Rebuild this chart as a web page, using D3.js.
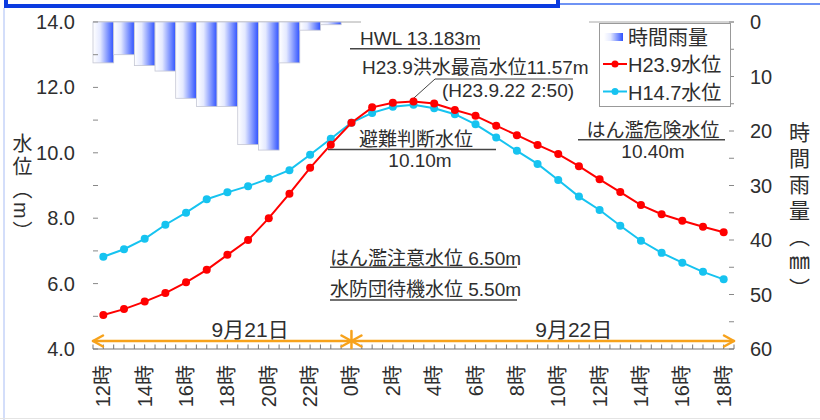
<!DOCTYPE html>
<html>
<head>
<meta charset="utf-8">
<script src="https://cdn.jsdelivr.net/npm/d3@7"></script>
<style>
  body { margin: 0; background: #fff; }
  svg { display: block; }
</style>
</head>
<body>
<div id="chart"></div>
<script>
// hourly categories, 9/21 12時 .. 9/22 18時
const hours = [12,13,14,15,16,17,18,19,20,21,22,23,0,1,2,3,4,5,6,7,8,9,10,11,12,13,14,15,16,17,18];
const hourLabels = hours.map(h => h + '時');

// hourly rainfall (mm)
const rain = [7.5, 6, 8, 9, 14, 15.5, 15.5, 22.5, 23.5, 7.5, 1.5, 0.5, 0];

// water level H23.9 (m)
const levelH23 = [5.04, 5.22, 5.45, 5.71, 6.04, 6.42, 6.88, 7.33, 8.0, 8.75, 9.54, 10.25, 10.92, 11.39, 11.53, 11.57,
  11.51, 11.31, 11.13, 10.83, 10.54, 10.24, 9.96, 9.59, 9.19, 8.80, 8.40, 8.12, 7.92, 7.74, 7.57];

// water level H14.7 (m)
const levelH14 = [6.82, 7.05, 7.37, 7.80, 8.17, 8.58, 8.79, 8.98, 9.21, 9.47, 9.94, 10.43, 10.92, 11.22, 11.41, 11.47,
  11.36, 11.18, 10.87, 10.47, 10.06, 9.66, 9.17, 8.66, 8.25, 7.77, 7.31, 6.94, 6.64, 6.36, 6.13];

const days = ['9月21日', '9月22日'];
const legendLabels = ['時間雨量', 'H23.9水位', 'H14.7水位'];

const hwl = 13.183;
const evacLevel = 10.10;
const dangerLevel = 10.40;
const cautionLevel = 6.50;
const standbyLevel = 5.50;
const peakValue = 11.57;
const peakTime = 'H23.9.22 2:50';

const FONT = "'Liberation Sans', 'Noto Sans CJK JP', sans-serif";
const TEXT = '#2e2e2e';
const RED = '#ff0000';
const CYAN = '#16c3f0';
const ORANGE = '#f7a21b';

const W = 820, H = 420;
const svg = d3.select('#chart').append('svg').attr('width', W).attr('height', H)
  .style('font-family', FONT);

svg.append('rect').attr('width', W).attr('height', H).attr('fill', '#fff');

// page frame bits (screenshot edges)
svg.append('rect').attr('x', 6).attr('y', -12).attr('width', 552).attr('height', 18)
  .attr('fill', '#fff').attr('stroke', '#0b3be0').attr('stroke-width', 4);
svg.append('line').attr('x1', 560).attr('x2', W).attr('y1', 4).attr('y2', 4)
  .attr('stroke', '#3f6ff0').attr('stroke-width', 1.5);
svg.append('line').attr('x1', 4).attr('x2', 4).attr('y1', 8).attr('y2', H)
  .attr('stroke', '#a8bdf5').attr('stroke-width', 1);
svg.append('line').attr('x1', 0).attr('x2', W).attr('y1', 418.5).attr('y2', 418.5)
  .attr('stroke', '#e4e4e4').attr('stroke-width', 1);

// scales
const x = d3.scaleBand().domain(d3.range(hours.length)).range([93, 734]).padding(0);
const bw = x.bandwidth();
const xc = i => x(0) + bw * (i + 0.5);
const yL = d3.scaleLinear().domain([4, 14]).range([349, 22]);
const yR = d3.scaleLinear().domain([0, 60]).range([22, 349]);

const defs = svg.append('defs');
const grad = defs.append('linearGradient').attr('id', 'rainGrad')
  .attr('x1', '0%').attr('x2', '100%').attr('y1', '0%').attr('y2', '0%');
grad.append('stop').attr('offset', '0%').attr('stop-color', '#ffffff');
grad.append('stop').attr('offset', '35%').attr('stop-color', '#e4e9ff');
grad.append('stop').attr('offset', '100%').attr('stop-color', '#2f52ff');

// bars' top baseline
svg.append('line').attr('x1', x(0)).attr('x2', x(0) + bw * hours.length)
  .attr('y1', yR(0)).attr('y2', yR(0)).attr('stroke', '#a8a8a8').attr('stroke-width', 1);

// rainfall bars hanging from the top
svg.selectAll('.bar')
  .data(rain)
  .enter()
  .append('rect')
  .attr('class', 'bar')
  .attr('x', (d, i) => x(i))
  .attr('y', yR(0))
  .attr('width', bw)
  .attr('height', d => yR(d) - yR(0))
  .attr('fill', 'url(#rainGrad)')
  .attr('stroke', '#c4c6d4')
  .attr('stroke-width', 0.8);

// left axis ticks + labels
const leftTicks = d3.range(4, 14.01, 1);
svg.selectAll('.ltick').data(leftTicks).enter().append('line')
  .attr('x1', 93).attr('x2', 98)
  .attr('y1', d => yL(d)).attr('y2', d => yL(d))
  .attr('stroke', '#888').attr('stroke-width', 1);
svg.selectAll('.llab').data(d3.range(4, 14.01, 2)).enter().append('text')
  .attr('x', 75).attr('y', d => yL(d))
  .attr('text-anchor', 'end').attr('dominant-baseline', 'central')
  .attr('font-size', 20).attr('fill', TEXT)
  .text(d => d.toFixed(1));

// right axis ticks + labels
svg.selectAll('.rtick').data(d3.range(0, 60.01, 5)).enter().append('line')
  .attr('x1', 729).attr('x2', 734)
  .attr('y1', d => yR(d)).attr('y2', d => yR(d))
  .attr('stroke', '#888').attr('stroke-width', 1);
svg.selectAll('.rlab').data(d3.range(0, 60.01, 10)).enter().append('text')
  .attr('x', 750).attr('y', d => yR(d))
  .attr('text-anchor', 'start').attr('dominant-baseline', 'central')
  .attr('font-size', 20).attr('fill', TEXT)
  .text(d => d);

// axis titles (vertical writing)
svg.append('text')
  .attr('x', 21).attr('y', 133)
  .style('writing-mode', 'vertical-rl')
  .attr('font-size', 20).attr('letter-spacing', 3).attr('fill', TEXT)
  .text('水位（m）');
svg.append('text')
  .attr('x', 798).attr('y', 122)
  .style('writing-mode', 'vertical-rl')
  .attr('font-size', 21).attr('letter-spacing', 5).attr('fill', TEXT)
  .text('時間雨量（㎜）');

// bottom axis
svg.append('line').attr('x1', x(0)).attr('x2', x(0) + bw * hours.length)
  .attr('y1', 349).attr('y2', 349).attr('stroke', '#777').attr('stroke-width', 1.2);
svg.selectAll('.btick').data(d3.range(hours.length * 2 + 1)).enter().append('line')
  .attr('x1', k => x(0) + k * bw / 2).attr('x2', k => x(0) + k * bw / 2)
  .attr('y1', 349).attr('y2', 344.5)
  .attr('stroke', '#777').attr('stroke-width', 1);
svg.selectAll('.blab').data(hourLabels).enter().append('text')
  .filter((d, i) => i % 2 === 0)
  .attr('transform', (d, i) => `translate(${xc(i * 2)},365) rotate(-90)`)
  .attr('text-anchor', 'end').attr('dominant-baseline', 'central')
  .attr('font-size', 20).attr('fill', TEXT)
  .text(d => d);

// day span arrows
const ay = 341;
const xStart = x(0), xMid = xc(hours.indexOf(0)), xEnd = x(0) + bw * hours.length;
const arrows = svg.append('g').attr('stroke', ORANGE).attr('stroke-width', 2.5).attr('fill', 'none')
  .attr('stroke-linecap', 'round').attr('stroke-linejoin', 'round');
arrows.append('line').attr('x1', xStart).attr('x2', xEnd).attr('y1', ay).attr('y2', ay);
[[xStart, 1], [xMid, -1], [xMid, 1], [xEnd, -1]].forEach(([px, dir]) => {
  arrows.append('path').attr('d', `M${px + dir * 10},${ay - 5.5} L${px},${ay} L${px + dir * 10},${ay + 5.5}`);
});
arrows.append('line').attr('x1', xMid).attr('x2', xMid).attr('y1', 331).attr('y2', 348);
svg.selectAll('.day').data(days).enter().append('text')
  .attr('x', (d, i) => xc(i === 0 ? 7.1 : 22.75)).attr('y', 337)
  .attr('text-anchor', 'middle').attr('font-size', 21).attr('fill', TEXT)
  .text(d => d);

// level annotations
const lineCol = '#454545';
const levelLine = (v, x1, x2) => svg.append('line').attr('x1', x1).attr('x2', x2)
  .attr('y1', yL(v)).attr('y2', yL(v)).attr('stroke', lineCol).attr('stroke-width', 1.5);
const label = (txt, px, py, anchor) => svg.append('text').attr('x', px).attr('y', py)
  .attr('text-anchor', anchor || 'start').attr('dominant-baseline', 'central')
  .attr('font-size', 19).attr('fill', TEXT).text(txt);

// white text box over the top baseline
svg.append('rect').attr('x', 361).attr('y', 18).attr('width', 228).attr('height', 26).attr('fill', '#fff');
levelLine(hwl, 350, 480);
label(`HWL  ${hwl.toFixed(3)}m`, 360, 38);
label(`H23.9洪水最高水位${peakValue}m`, 362, 67);
label(`(${peakTime})`, 442, 90);
svg.append('path')
  .attr('d', `M573,79 L435,79 L${xc(14) + bw * 50 / 60},${yL(peakValue)}`)
  .attr('fill', 'none').attr('stroke', lineCol).attr('stroke-width', 1);

levelLine(evacLevel, 328, 496);
label('避難判断水位', 416, 139, 'middle');
label(evacLevel.toFixed(2) + 'm', 420, 160, 'middle');

levelLine(dangerLevel, 578, 725);
label('はん濫危険水位', 653, 130, 'middle');
label(dangerLevel.toFixed(2) + 'm', 653, 151, 'middle');

levelLine(cautionLevel, 330, 517);
label(`はん濫注意水位 ${cautionLevel.toFixed(2)}m`, 330, 258);
levelLine(standbyLevel, 330, 517);
label(`水防団待機水位 ${standbyLevel.toFixed(2)}m`, 330, 289);

// water level lines
const line = d3.line().x((d, i) => xc(i)).y(d => yL(d));
[[levelH14, CYAN], [levelH23, RED]].forEach(([data, col]) => {
  svg.append('path').datum(data).attr('d', line)
    .attr('fill', 'none').attr('stroke', col).attr('stroke-width', 2);
  svg.selectAll(null).data(data).enter().append('circle')
    .attr('cx', (d, i) => xc(i)).attr('cy', d => yL(d)).attr('r', 4)
    .attr('fill', col);
});

// legend
const lg = svg.append('g');
lg.append('rect').attr('x', 599.5).attr('y', 23.5).attr('width', 131).attr('height', 83)
  .attr('fill', '#fff').attr('stroke', '#999').attr('stroke-width', 1);
const ly = [37, 64, 91.5];
lg.append('rect').attr('x', 604).attr('y', ly[0] - 4).attr('width', 19).attr('height', 8)
  .attr('fill', 'url(#rainGrad)');
[[RED, ly[1]], [CYAN, ly[2]]].forEach(([col, yy]) => {
  lg.append('line').attr('x1', 603).attr('x2', 627).attr('y1', yy).attr('y2', yy)
    .attr('stroke', col).attr('stroke-width', 2);
  lg.append('circle').attr('cx', 615).attr('cy', yy).attr('r', 3.5).attr('fill', col);
});
lg.selectAll('.ltxt').data(legendLabels).enter().append('text')
  .attr('x', 628).attr('y', (d, i) => ly[i] + 1)
  .attr('dominant-baseline', 'central').attr('font-size', 20).attr('fill', TEXT)
  .text(d => d);
</script>
</body>
</html>
